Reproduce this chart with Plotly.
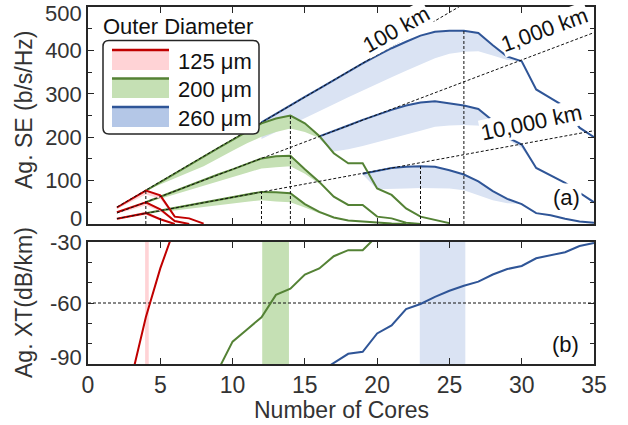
import plotly.graph_objects as go

# ---------------- data ----------------
# Panel (a): aggregate spectral efficiency vs number of cores
n_red_100 = [2, 3, 4, 5, 6, 7, 8]
red_100 = [38, 57, 77, 66, 17, 13, 1]
red_100_lo = [34, 51, 68, 58, 14, 11, 0]
n_red_1000 = [2, 3, 4, 5, 6, 7]
red_1000 = [27, 38, 50, 34, 7, 0]
red_1000_lo = [24, 33, 43, 29, 5, 0]
n_red_10000 = [2, 3, 4, 5, 6]
red_10000 = [12, 19, 25, 11, 0]
red_10000_lo = [10, 16, 21, 8, 0]

n_grn_100 = [4, 5, 6, 7, 8, 9, 10, 11, 12, 13, 14, 15, 16, 17, 18, 19, 20, 21, 22, 23, 24, 25]
grn_100 = [77, 97, 116, 136, 155, 175, 194, 214, 232, 243, 250, 232, 203, 163, 140, 140, 82, 67, 36, 17, 10, 2]
grn_100_lo = [77, 91, 105, 119, 133, 151, 169, 186, 201, 212, 220, 212, 198, 163, 140, 140, 82, 67, 36, 17, 10, 2]
n_grn_1000 = [4, 5, 6, 7, 8, 9, 10, 11, 12, 13, 14, 15, 16, 17, 18, 19, 20, 21, 22, 23]
grn_1000 = [50, 63, 76, 88, 101, 114, 126, 139, 151, 156, 157, 126, 97, 63, 44, 44, 17, 13, 3, 0]
grn_1000_lo = [50, 58, 67, 77, 88, 98, 108, 118, 128, 131, 133, 116, 93, 63, 44, 44, 17, 13, 3, 0]
n_grn_10000 = [4, 5, 6, 7, 8, 9, 10, 11, 12, 13, 14, 15, 16, 17, 18, 19, 20, 21, 22]
grn_10000 = [25, 31, 37, 43, 50, 56, 62, 68, 74, 73, 71, 46, 28, 15, 8, 6, 3, 1, 0]
grn_10000_lo = [25, 28, 31, 34, 38, 42, 47, 51, 55, 52, 50, 38, 25, 15, 8, 6, 3, 1, 0]

n_blu_100 = list(range(12, 36))
blu_100 = [234, 254, 273, 293, 312, 332, 351, 370, 388, 405, 420, 434, 443, 445, 445, 440,
           412, 386, 375, 310, 290, 270, 222, 200]
blu_100_lo = [196, 212, 228, 244, 260, 276, 292, 308, 323, 338, 353, 368, 382, 392, 397, 398,
              388, 378, 375, 310, 290, 270, 222, 200]
n_blu_1000 = list(range(16, 36))
blu_1000 = [202, 214, 227, 240, 252, 263, 273, 280, 283, 278, 273, 265, 238, 200, 183, 129, 112, 95, 72, 50]
blu_1000_lo = [195, 167, 172, 180, 188, 197, 206, 215, 224, 227, 228, 226, 225, 195, 175, 129, 112, 95, 72, 50]
n_blu_10000 = list(range(19, 36))
blu_10000 = [116, 123, 129, 132, 133, 132, 124, 114, 98, 76, 58, 46, 25, 20, 12, 6, 3]
blu_10000_lo = [114, 80, 81, 82, 83, 83, 82, 78, 66, 55, 48, 46, 25, 20, 12, 6, 3]

# reference distance lines (two end points each)
ref_x = [2, 35]
ref_100 = [39, 682.5]
ref_1000 = [25.2, 441]
ref_10000 = [12.3, 215]
ref_labels = ["100 km", "1,000 km", "10,000 km"]

# vertical markers (optimum core counts)
vline_x = [4, 12, 14, 23, 26]
vline_top = [77, 74, 250, 133, 445]

# Panel (b): aggregate crosstalk
n_xt_red = [3, 4, 5, 6]
xt_red = [-97, -67, -43, -23]
n_xt_grn = [9, 10, 11, 12, 13, 14, 15, 16, 17, 18, 19, 20]
xt_grn = [-93, -79, -73, -67, -56, -53, -46, -43, -37, -34, -34, -27]
n_xt_blu = list(range(16, 36))
xt_blu = [-94, -89.5, -85, -84, -75, -71, -63, -60.5, -57, -54, -51.5, -49.5, -46, -43.3,
          -41.8, -38, -36.4, -35, -32, -30.5]
xt_threshold = -60
band_red = [3.95, 4.2]
band_grn = [12.05, 13.9]
band_blu = [22.95, 26.1]

se_ticks = [0, 100, 200, 300, 400, 500]
xt_ticks = [-90, -60, -30]
legend_labels = ["125 μm", "200 μm", "260 μm"]

# ---------------- styles ----------------
RED, GRN, BLU = "#C00000", "#548235", "#2F5597"
RED_F, GRN_F, BLU_F = "#FFD3D6", "#C5E0B4", "#DAE3F3"
LEG_F = ["#FFD3D6", "#C5E0B4", "#B4C7E7"]
FONT = "Liberation Sans, Arial, sans-serif"
AX = "#262626"
TXT = "#333333"

fig = go.Figure()


def band(x, hi, lo, color, xa="x", ya="y"):
    fig.add_trace(go.Scatter(x=list(x) + list(x)[::-1], y=list(hi) + list(lo)[::-1],
                             fill="toself", fillcolor=color, line=dict(width=0),
                             mode="lines", hoverinfo="skip", showlegend=False,
                             xaxis=xa, yaxis=ya))


def line(x, y, color, xa="x", ya="y", width=2):
    fig.add_trace(go.Scatter(x=x, y=y, mode="lines", line=dict(color=color, width=width),
                             showlegend=False, xaxis=xa, yaxis=ya))


# blue group
for x, hi, lo in [(n_blu_100, blu_100, blu_100_lo), (n_blu_1000, blu_1000, blu_1000_lo),
                  (n_blu_10000, blu_10000, blu_10000_lo)]:
    band(x, hi, lo, BLU_F)
for x, hi in [(n_blu_100, blu_100), (n_blu_1000, blu_1000), (n_blu_10000, blu_10000)]:
    line(x, hi, BLU)
# green group
for x, hi, lo in [(n_grn_100, grn_100, grn_100_lo), (n_grn_1000, grn_1000, grn_1000_lo),
                  (n_grn_10000, grn_10000, grn_10000_lo)]:
    band(x, hi, lo, GRN_F)
for x, hi in [(n_grn_100, grn_100), (n_grn_1000, grn_1000), (n_grn_10000, grn_10000)]:
    line(x, hi, GRN)
# red group
for x, hi, lo in [(n_red_100, red_100, red_100_lo), (n_red_1000, red_1000, red_1000_lo),
                  (n_red_10000, red_10000, red_10000_lo)]:
    band(x, hi, lo, RED_F)
for x, hi in [(n_red_100, red_100), (n_red_1000, red_1000), (n_red_10000, red_10000)]:
    line(x, hi, RED)

DASH = "3px,2px"
for ry in [ref_100, ref_1000, ref_10000]:
    fig.add_trace(go.Scatter(x=ref_x, y=ry, mode="lines",
                             line=dict(color="#111111", width=1, dash=DASH), showlegend=False))
for vx, vt in zip(vline_x, vline_top):
    fig.add_trace(go.Scatter(x=[vx, vx], y=[0, vt], mode="lines",
                             line=dict(color="#111111", width=1, dash=DASH), showlegend=False))

# bottom panel
for (b, c) in [(band_red, RED_F), (band_grn, GRN_F), (band_blu, BLU_F)]:
    fig.add_shape(type="rect", xref="x2", yref="y2", x0=b[0], x1=b[1], y0=-90, y1=-30,
                  fillcolor=c, line=dict(width=0), layer="below")
fig.add_trace(go.Scatter(x=[0, 35], y=[xt_threshold, xt_threshold], mode="lines",
                         line=dict(color="#111111", width=1, dash=DASH), showlegend=False,
                         xaxis="x2", yaxis="y2"))
line(n_xt_red, xt_red, RED, "x2", "y2")
line(n_xt_grn, xt_grn, GRN, "x2", "y2")
line(n_xt_blu, xt_blu, BLU, "x2", "y2")

# ---------------- layout ----------------
L, R, T, B = 88, 34, 7, 61
W, H = 628, 425
PH = H - T - B


def py(p):  # pixel y -> paper y
    return (H - B - p) / PH


def px(p):  # pixel x -> paper x
    return (p - L) / (W - L - R)


axis_common = dict(showline=True, linecolor=AX, linewidth=1.5, mirror="ticks",
                   ticks="inside", ticklen=6, tickwidth=1.2, tickcolor=AX,
                   showgrid=False, zeroline=False, automargin=False,
                   ticklabeloverflow="allow")

# end labels of the y axes are nudged inward (as in the original) -> drawn as annotations
se_text = ["" if v in (se_ticks[0], se_ticks[-1]) else str(v) for v in se_ticks]
xt_text = ["" if v == xt_ticks[0] else str(v) for v in xt_ticks]

fig.update_layout(
    width=W, height=H, margin=dict(l=L, r=R, t=T, b=B, autoexpand=False),
    paper_bgcolor="white", plot_bgcolor="white",
    font=dict(family=FONT, color="#1a1a1a"),
    xaxis=dict(domain=[0, 1], range=[0, 35], dtick=5, tick0=0, anchor="y",
               showticklabels=False, **axis_common),
    yaxis=dict(domain=[py(224), 1], range=[0, 500], tickvals=se_ticks, ticktext=se_text,
               anchor="x", tickfont=dict(size=22, family=FONT, color=TXT),
               minor=dict(dtick=50, ticks="inside", ticklen=4, tickcolor=AX),
               **axis_common),
    xaxis2=dict(domain=[0, 1], range=[0, 35], dtick=5, tick0=0, anchor="y2",
                tickfont=dict(size=23, family=FONT, color=TXT), **axis_common),
    yaxis2=dict(domain=[0, py(242)], range=[-90, -30], tickvals=xt_ticks, ticktext=xt_text,
                anchor="x2", tickfont=dict(size=22, family=FONT, color=TXT),
                minor=dict(dtick=10, ticks="inside", ticklen=4, tickcolor=AX),
                **axis_common),
)

ann = []
for txt, ypix in [(str(se_ticks[0]), 218), (str(se_ticks[-1]), 13), (str(xt_ticks[0]), 357)]:
    ann.append(dict(text=txt, xref="paper", yref="paper", x=px(84), y=py(ypix),
                    xanchor="right", yanchor="middle", showarrow=False,
                    font=dict(size=22, color=TXT)))
# axis titles
ann.append(dict(text="Ag. SE (b/s/Hz)", xref="paper", yref="paper", x=px(24), y=py(110),
                xanchor="center", yanchor="middle",
                textangle=-90, showarrow=False, font=dict(size=23, color=TXT)))
ann.append(dict(text="Ag. XT(dB/km)", xref="paper", yref="paper", x=px(24), y=py(303),
                xanchor="center", yanchor="middle",
                textangle=-90, showarrow=False, font=dict(size=23, color=TXT)))
ann.append(dict(text="Number of Cores", xref="paper", yref="paper", x=px(341), y=py(410),
                xanchor="center", yanchor="middle",
                showarrow=False, font=dict(size=23, color=TXT)))
# distance labels
for lab, (ax_, ay_, ang) in zip(ref_labels, [(21.3, 449, -29), (31.6, 449, -20), (30.7, 234, -12)]):
    ann.append(dict(text=lab, x=ax_, y=ay_, xref="x", yref="y", textangle=ang, showarrow=False,
                    xanchor="center", yanchor="middle",
                    bgcolor="white", borderpad=0, font=dict(size=22, color="#111111")))
ann.append(dict(text="(a)", x=33.1, y=62, xref="x", yref="y", showarrow=False, bgcolor="white",
                xanchor="center", yanchor="middle", font=dict(size=22, color="#111111")))
ann.append(dict(text="(b)", x=33.0, y=-80.2, xref="x2", yref="y2", showarrow=False,
                xanchor="center", yanchor="middle", font=dict(size=22, color="#111111")))

# manual legend
x0, x1, yb, yt = px(103), px(259), py(134), py(40.5)
rx, ry = 6 / (W - L - R), 6 / PH
path = (f"M {x0+rx},{yt} L {x1-rx},{yt} Q {x1},{yt} {x1},{yt-ry} L {x1},{yb+ry} "
        f"Q {x1},{yb} {x1-rx},{yb} L {x0+rx},{yb} Q {x0},{yb} {x0},{yb+ry} "
        f"L {x0},{yt-ry} Q {x0},{yt} {x0+rx},{yt} Z")
fig.add_shape(type="path", path=path, xref="paper", yref="paper", fillcolor="white",
              line=dict(color=AX, width=1.5), layer="above")
sw = [(50, 70), (78.5, 98), (107, 127)]
for (top, bot), lc, fc, lab, ty in zip(sw, [RED, GRN, BLU], LEG_F, legend_labels, [61.7, 90, 118.3]):
    fig.add_shape(type="rect", xref="paper", yref="paper", x0=px(112), x1=px(169),
                  y0=py(bot), y1=py(top), fillcolor=fc, line=dict(width=0), layer="above")
    fig.add_shape(type="line", xref="paper", yref="paper", x0=px(112), x1=px(169),
                  y0=py(top), y1=py(top), line=dict(color=lc, width=2.5), layer="above")
    ann.append(dict(text=lab, xref="paper", yref="paper", x=px(176), y=py(ty), xanchor="left",
                    yanchor="middle", showarrow=False, font=dict(size=22, color="#111111")))
ann.append(dict(text="Outer Diameter", xref="paper", yref="paper", x=px(101), y=py(26),
                xanchor="left", yanchor="middle", showarrow=False,
                font=dict(size=22, color="#111111")))
fig.update_layout(annotations=ann)

fig.write_html("out.html")
